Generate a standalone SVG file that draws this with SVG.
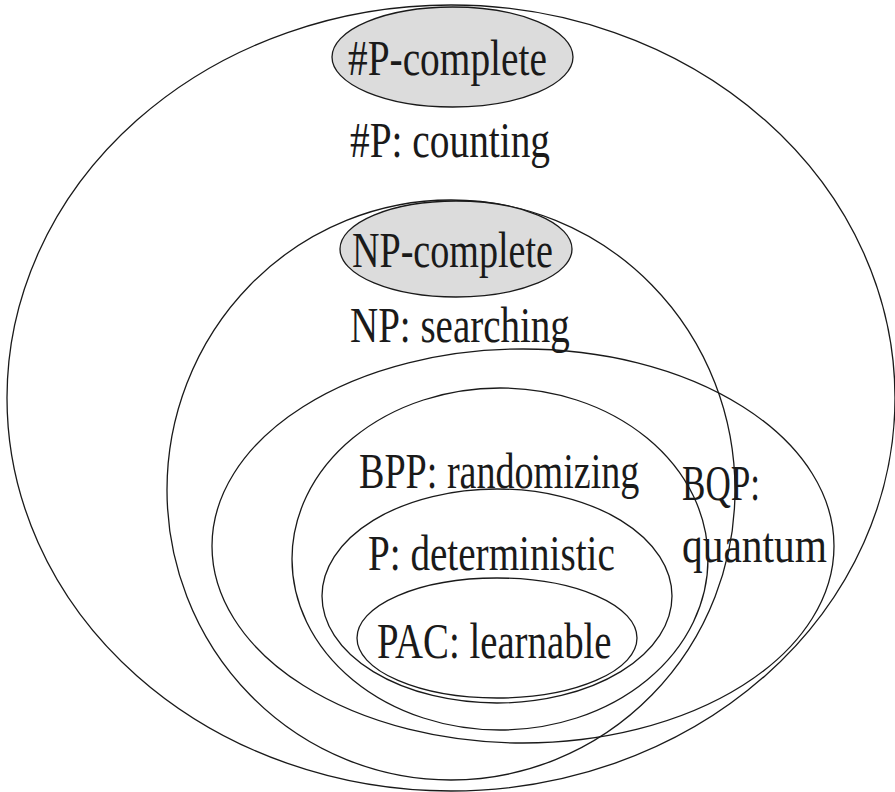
<svg xmlns="http://www.w3.org/2000/svg" width="895" height="792" viewBox="0 0 895 792">
<style>
.set{fill:none;stroke:#1a1a1a;stroke-width:1.3}
.core{fill:#dcdcdc;stroke:#1a1a1a;stroke-width:1.3}
.lbl{font-family:"Liberation Serif","Times New Roman",serif;font-size:50px;fill:#1a1a1a}
</style>
<rect width="895" height="792" fill="#ffffff"/>
<g id="sharpP">
<ellipse class="set" cx="451" cy="398" rx="444" ry="393"/>
<text class="lbl" transform="translate(350,157) scale(0.787,1)">#P: counting</text>
</g>
<g id="sharpP-complete">
<ellipse class="core" cx="452.5" cy="57" rx="120.5" ry="50"/>
<text class="lbl" transform="translate(348,75) scale(0.787,1)">#P-complete</text>
</g>
<g id="NP">
<ellipse class="set" cx="451" cy="490" rx="284" ry="290"/>
<text class="lbl" transform="translate(350,342) scale(0.78,1)">NP: searching</text>
</g>
<g id="NP-complete">
<ellipse class="core" cx="456" cy="249" rx="116" ry="48"/>
<text class="lbl" transform="translate(352,267) scale(0.762,1)">NP-complete</text>
</g>
<g id="BQP">
<ellipse class="set" cx="523" cy="546" rx="311" ry="197"/>
<text class="lbl" transform="translate(682,500) scale(0.702,1)">BQP:</text>
<text class="lbl" transform="translate(682,562) scale(0.829,1)">quantum</text>
</g>
<g id="BPP">
<ellipse class="set" cx="500" cy="559" rx="208" ry="171"/>
<text class="lbl" transform="translate(359,488) scale(0.762,1)">BPP: randomizing</text>
</g>
<g id="P">
<ellipse class="set" cx="497" cy="596" rx="175" ry="107"/>
<text class="lbl" transform="translate(368,570) scale(0.783,1)">P: deterministic</text>
</g>
<g id="PAC">
<ellipse class="set" cx="497" cy="638" rx="140" ry="60"/>
<text class="lbl" transform="translate(377,658) scale(0.776,1)">PAC: learnable</text>
</g>
<g id="connectors"/>
</svg>
